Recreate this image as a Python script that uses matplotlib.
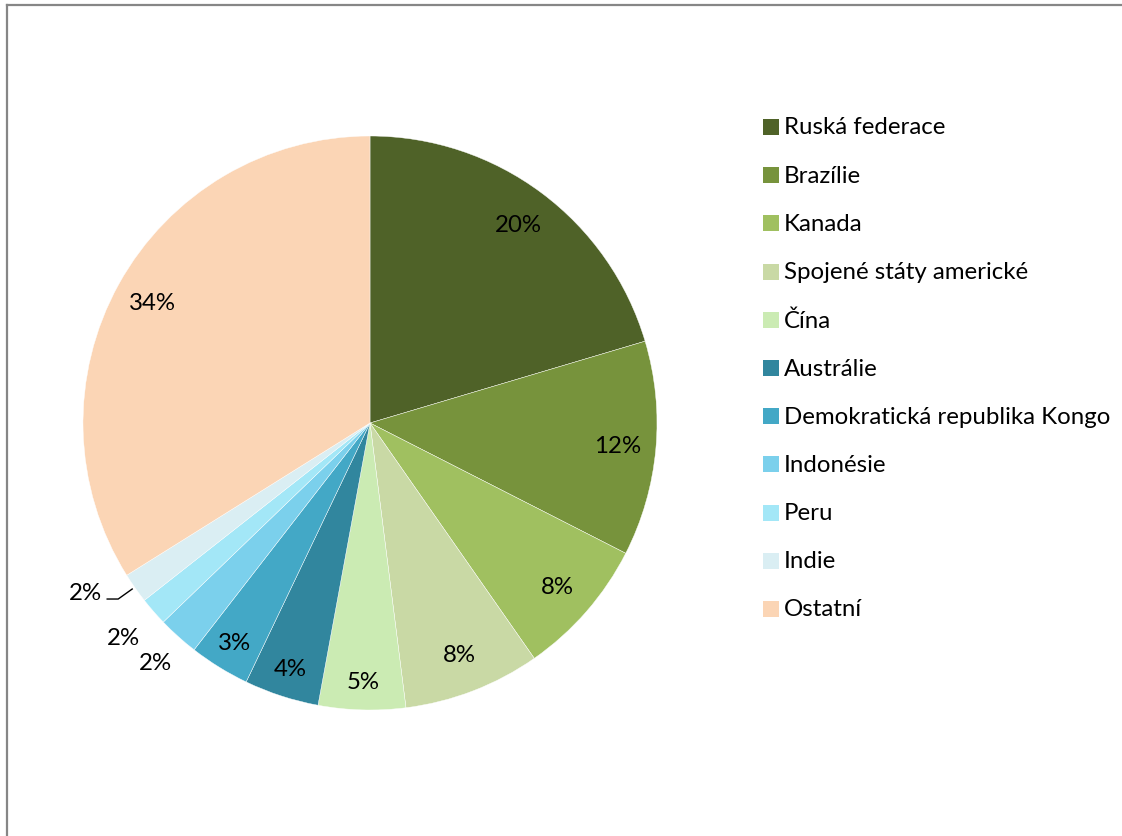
import matplotlib
matplotlib.use("Agg")
import matplotlib.pyplot as plt
from matplotlib.patches import Rectangle
from matplotlib.lines import Line2D
import numpy as np

countries = ["Ruská federace", "Brazílie", "Kanada", "Spojené státy americké", "Čína",
             "Austrálie", "Demokratická republika Kongo", "Indonésie", "Peru", "Indie", "Ostatní"]
shares = [20.4, 12.1, 7.8, 7.7, 4.9, 4.2, 3.4, 2.3, 1.6, 1.7, 33.9]
pct_labels = ["20%", "12%", "8%", "8%", "5%", "4%", "3%", "2%", "2%", "2%", "34%"]
colors = ["#4F6228", "#77933C", "#A0C060", "#C9D9A5", "#CBEBB3",
          "#31869E", "#43A8C6", "#7BD0EC", "#A3E7F7", "#DAEEF3", "#FBD5B5"]

W, H = 1122, 837
plt.rcParams['font.family'] = ['Lato', 'DejaVu Sans']
fig = plt.figure(figsize=(W / 100, H / 100), dpi=100)
ax = fig.add_axes([0, 0, 1, 1])

cx, cy, R = 370, H - 424, 287
wedges, _ = ax.pie(shares, colors=colors, startangle=90, counterclock=False,
                   center=(cx, cy), radius=R, frame=True,
                   wedgeprops=dict(edgecolor="white", linewidth=0.3))
ax.set_xlim(0, W)
ax.set_ylim(0, H)
ax.axis("off")

fs = 17.3
# label distances (fraction of radius); Indie label is placed by its leader line
dists = [0.865, 0.865, 0.865, 0.865, 0.9, 0.9, 0.9, 1.12, 1.14, None, 0.865]
for w, lab, d in zip(wedges, pct_labels, dists):
    if d is None:
        continue
    ang = np.deg2rad((w.theta1 + w.theta2) / 2)
    x = cx + d * R * np.cos(ang)
    y = cy + d * R * np.sin(ang)
    ax.text(x, y, lab, ha="center", va="center", fontsize=fs, color="black")

# leader line + label for the Indie slice
wi = wedges[9]
ang = np.deg2rad((wi.theta1 + wi.theta2) / 2)
ex, ey = cx + R * np.cos(ang), cy + R * np.sin(ang)
lx = [ex - 28, ex - 17, ex - 3]
ly = [ey - 11, ey - 11, ey - 1]
ax.add_line(Line2D(lx, ly, color="black", linewidth=1.0))
ax.text(lx[0] - 22, ly[0] + 7, pct_labels[9], ha="center", va="center",
        fontsize=fs, color="black")

# legend
y0, step = H - 128, 48.2
for i, (name, c) in enumerate(zip(countries, colors)):
    y = y0 - i * step
    ax.add_patch(Rectangle((763, y - 8), 16, 16, facecolor=c, edgecolor="none"))
    ax.text(784, y, name, ha="left", va="center", fontsize=fs, color="black")

# chart area border (top and left)
ax.add_line(Line2D([7, W + 5], [H - 6, H - 6], color="#868686", linewidth=1.6))
ax.add_line(Line2D([7, 7], [-5, H - 6], color="#868686", linewidth=1.6))

fig.savefig("out.png", dpi=100)
